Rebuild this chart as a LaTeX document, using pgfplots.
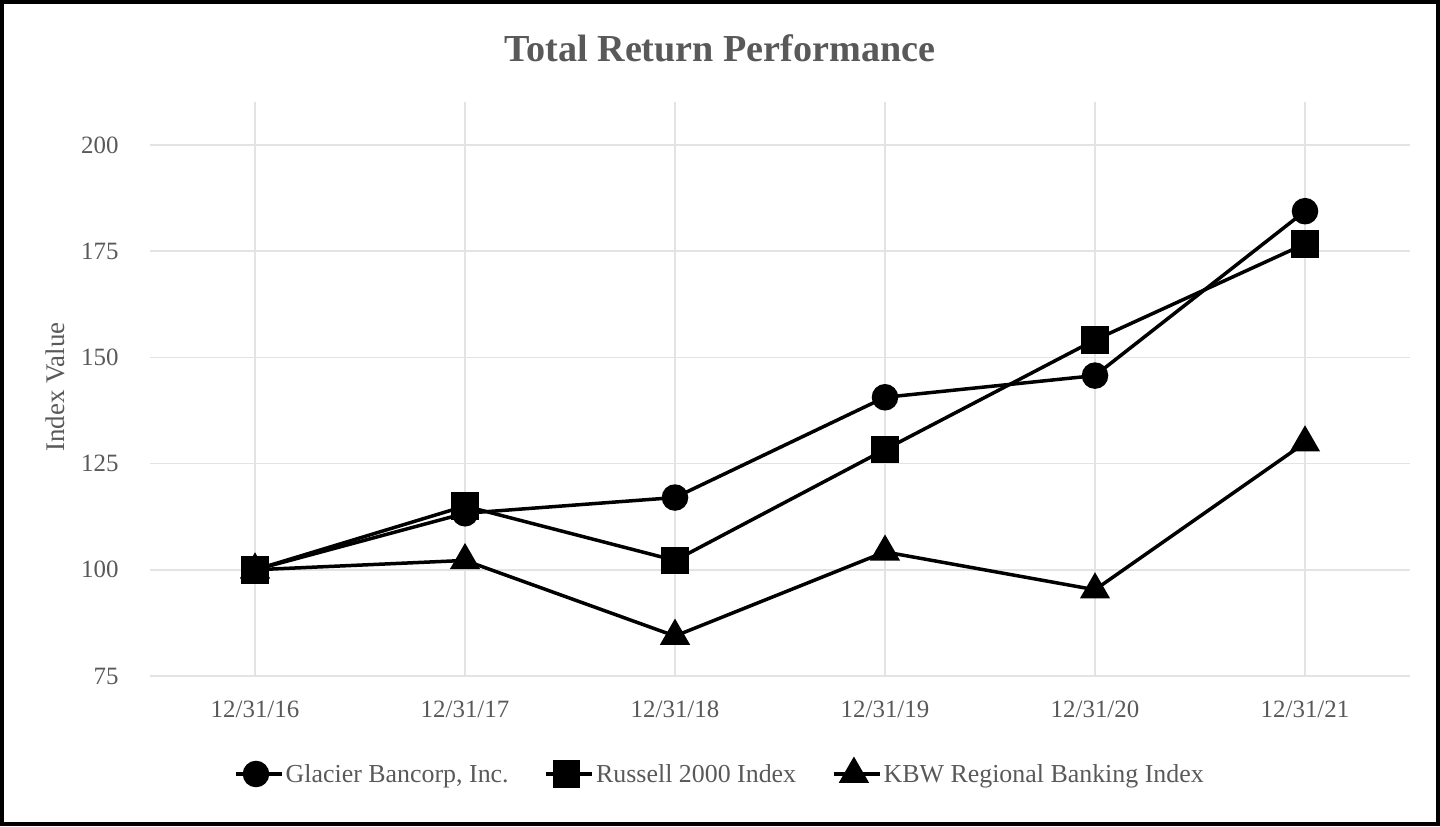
\documentclass[border=0pt]{standalone}
\usepackage{pgfplots}
\pgfplotsset{compat=1.18}
\usepackage{fontspec}
\setmainfont{Liberation Serif}
\definecolor{textgray}{HTML}{595959}
\definecolor{gridgray}{HTML}{E3E3E3}
\begin{document}
\begin{tikzpicture}[x=1bp,y=1bp]
\draw[line width=4bp, black] (2,2) rectangle (1438,824);
\node[font=\fontsize{38.3}{46}\selectfont\bfseries, text=textgray] at (720,778) {Total Return Performance};
\node[font=\fontsize{27}{32}\selectfont, text=textgray, rotate=90] at (55,439) {Index Value};
\begin{axis}[
  at={(150bp,150bp)}, anchor=south west,
  scale only axis, width=1260bp, height=574bp,
  xmin=-0.5, xmax=5.5, ymin=75, ymax=210.1,
  xtick={0,1,2,3,4,5},
  xticklabels={12/31/16,12/31/17,12/31/18,12/31/19,12/31/20,12/31/21},
  ytick={75,100,125,150,175,200},
  axis line style={draw=none},
  major tick length=0pt,
  grid=major,
  grid style={color=gridgray, line width=1.6bp},
  tick label style={font=\fontsize{25}{30}\selectfont, text=textgray},
  /pgf/number format/assume math mode=true,
  yticklabel style={xshift=-28bp},
  xticklabel style={yshift=-21bp},
  legend style={at={(0.4524,-0.169)}, anchor=center, legend columns=3, draw=none, fill=none,
    font=\fontsize{26}{31}\selectfont, text=textgray,
    /tikz/every even column/.append style={column sep=34bp}},
  legend image code/.code={\path (0bp,0bp) -- (46bp,0bp);\draw[mark repeat=2,mark phase=2,#1] plot coordinates {(0bp,0bp) (20bp,0bp) (40bp,0bp)};},
  every axis plot/.append style={line width=3.5bp, black, mark options={solid}},
]
\addplot[forget plot, mark=triangle*, mark size=14bp] coordinates {(0,100) (1,102.2) (2,84.4) (3,104.2) (4,95.3) (5,129.9)};
\addplot[forget plot, mark=*, mark size=11.5bp] coordinates {(0,100) (1,113.3) (2,117.0) (3,140.6) (4,145.7) (5,184.4)};
\addplot[forget plot, mark=square*, mark size=12bp] coordinates {(0,100) (1,115.0) (2,102.2) (3,128.3) (4,154.1) (5,176.7)};
\addlegendimage{line width=3.5bp, black, mark=*, mark size=11.5bp}
\addlegendimage{line width=3.5bp, black, mark=square*, mark size=12bp}
\addlegendimage{line width=3.5bp, black, mark=triangle*, mark size=14bp}
\legend{{Glacier Bancorp, Inc.},{Russell 2000 Index},{KBW Regional Banking Index}}
\end{axis}
\end{tikzpicture}
\end{document}
